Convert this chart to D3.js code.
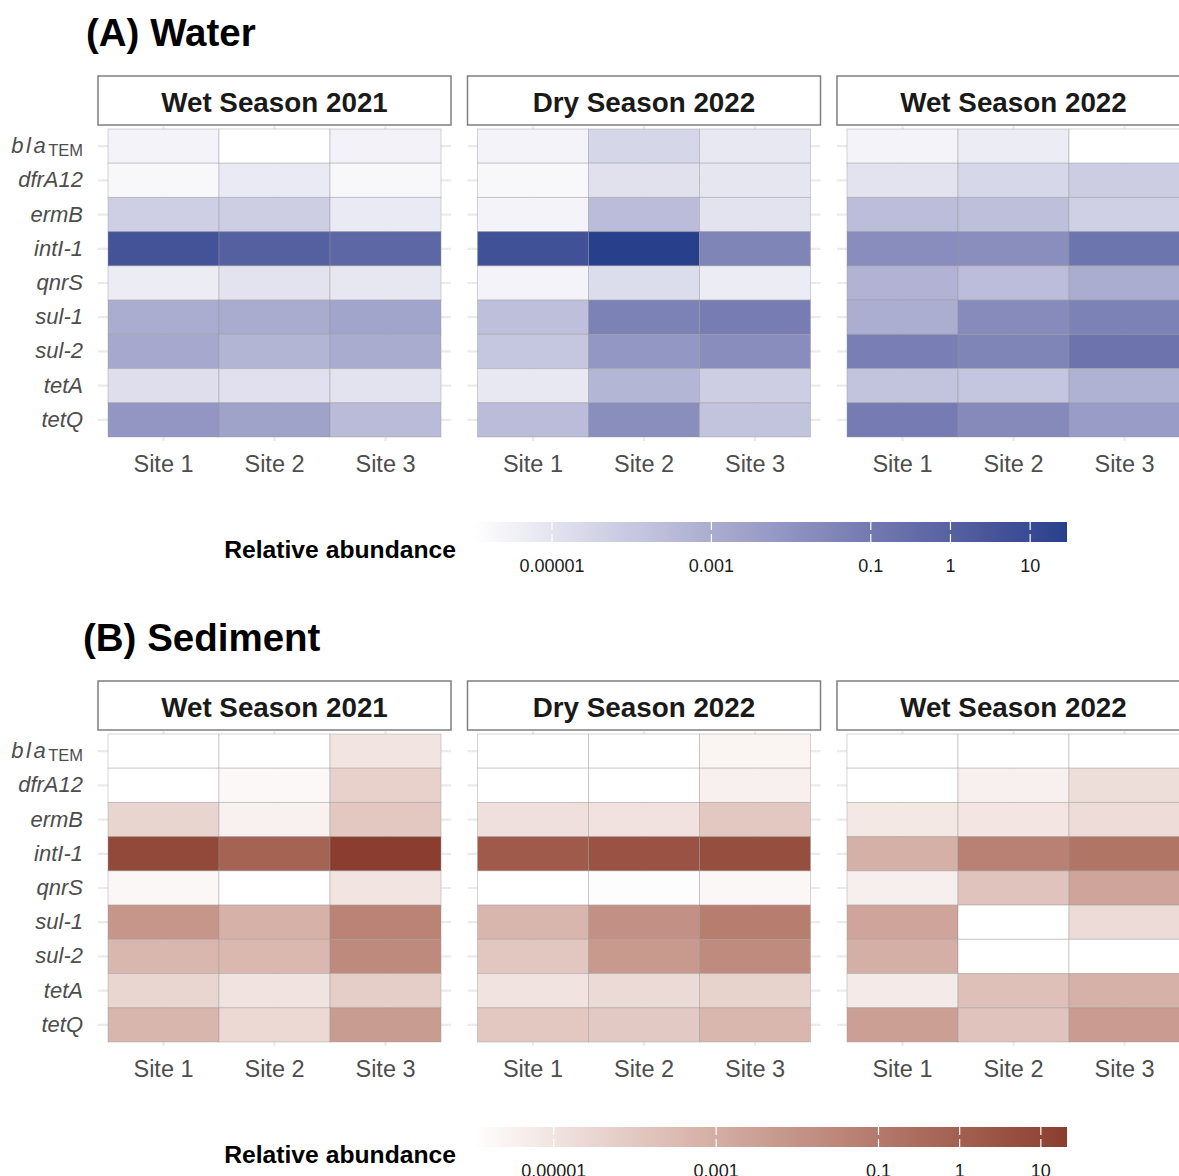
<!DOCTYPE html>
<html>
<head>
<meta charset="utf-8">
<script src="https://cdn.jsdelivr.net/npm/d3@7"></script>
<style>
  body { margin: 0; background: #fff; }
  svg { display: block; font-family: "Liberation Sans", Arial, sans-serif; }
</style>
</head>
<body>
<svg id="chart"></svg>
<script>
const genes = ['blaTEM', 'dfrA12', 'ermB', 'intI-1', 'qnrS', 'sul-1', 'sul-2', 'tetA', 'tetQ'];
const sites = ['Site 1', 'Site 2', 'Site 3'];
const seasons = ['Wet Season 2021', 'Dry Season 2022', 'Wet Season 2022'];

// relative abundance, one row per gene, columns Site 1..3 (null = not detected)
const waterWet2021 = [
  [2.7e-6, null, 3e-6],
  [1.8e-6, 5.6e-6, 1.8e-6],
  [5.6e-5, 6e-5, 5.6e-6],
  [4.2, 1.1, 0.6],
  [5e-6, 1e-5, 7.5e-6],
  [1.1e-3, 1.2e-3, 2.2e-3],
  [1.5e-3, 5e-4, 1.2e-3],
  [1.5e-5, 1.3e-5, 1e-5],
  [7.4e-3, 2.7e-3, 3e-4],
];
const waterDry2022 = [
  [2.7e-6, 3e-5, 7e-6],
  [1.8e-6, 1.2e-5, 8e-6],
  [2.7e-6, 2.8e-4, 1e-5],
  [5.2, 28, 0.035],
  [2.7e-6, 1.7e-5, 5e-6],
  [2.1e-4, 0.05, 0.075],
  [1.2e-4, 7e-3, 0.017],
  [7e-6, 4.5e-4, 6e-5],
  [2.8e-4, 0.016, 1.5e-4],
];
const waterWet2022 = [
  [2.7e-6, 5e-6, null],
  [1e-5, 2.8e-5, 6.5e-5],
  [2.5e-4, 2e-4, 5e-5],
  [0.017, 0.016, 0.16],
  [5.7e-4, 2.5e-4, 1e-3],
  [9e-4, 0.021, 0.05],
  [0.06, 0.035, 0.17],
  [1.5e-4, 1.3e-4, 6.5e-4],
  [0.08, 0.022, 4.5e-3],
];

const sedimentWet2021 = [
  [null, null, 9.5e-6],
  [null, 1.8e-6, 4.7e-5],
  [3.5e-5, 3.2e-6, 1e-4],
  [8, 0.75, 21],
  [2e-6, null, 9.5e-6],
  [8e-3, 7.4e-4, 0.04],
  [4.3e-4, 4e-4, 0.023],
  [3.2e-5, 1e-5, 6e-5],
  [5e-4, 2.5e-5, 4.6e-3],
];
const sedimentDry2022 = [
  [null, null, 2.5e-6],
  [null, null, 3.5e-6],
  [1.3e-5, 1.1e-5, 1e-4],
  [1.6, 3.3, 5],
  [null, 1.2e-6, 2e-6],
  [5e-4, 0.013, 0.066],
  [1.1e-4, 6e-3, 0.02],
  [1e-5, 2.2e-5, 4.5e-5],
  [1e-4, 9e-5, 4.3e-4],
];
const sedimentWet2022 = [
  [null, null, null],
  [null, 3.5e-6, 1.6e-5],
  [7e-6, 9e-6, 1.9e-5],
  [8e-4, 0.05, 0.15],
  [4e-6, 1.5e-4, 2e-3],
  [2e-3, null, 2e-5],
  [9e-4, null, null],
  [6e-6, 2e-4, 7e-4],
  [3.5e-3, 1.5e-4, 4.5e-3],
];

const legendBreaks = [1e-5, 1e-3, 0.1, 1, 10];
const legendLabels = ['0.00001', '0.001', '0.1', '1', '10'];
const waterRange = [1.05e-6, 29];
const sedimentRange = [1.04e-6, 21];

const width = 1179;
const height = 1176;

const svg = d3.select('#chart')
  .attr('width', width)
  .attr('height', height);

const defs = svg.append('defs');

// facet panels
const panelX = d3.scaleBand()
  .domain(seasons)
  .range([98, 1190])
  .paddingInner(0.0446);
const siteX = d3.scaleBand()
  .domain(sites)
  .range([10, panelX.bandwidth() - 10]);

const drawBlock = (opts) => {
  const top = opts.top;
  const g = svg.append('g')
    .attr('transform', `translate(0, ${top})`);

  const color = d3.scaleSequentialLog(d3.interpolateLab('#ffffff', opts.high))
    .domain(opts.range);

  g.append('text')
    .attr('x', opts.titleX)
    .attr('y', 46)
    .attr('font-size', 38.5)
    .attr('font-weight', 'bold')
    .attr('fill', '#000')
    .text(opts.title);

  const y = d3.scaleBand()
    .domain(genes)
    .range([129, 437]);

  seasons.forEach((season, si) => {
    const px = panelX(season);
    const p = g.append('g')
      .attr('transform', `translate(${px}, 0)`);

    // strip
    p.append('rect')
      .attr('x', 0)
      .attr('y', 76)
      .attr('width', panelX.bandwidth())
      .attr('height', 49)
      .attr('fill', '#fff')
      .attr('stroke', '#7f7f7f')
      .attr('stroke-width', 1.5);
    p.append('text')
      .attr('x', panelX.bandwidth() / 2)
      .attr('y', 112)
      .attr('text-anchor', 'middle')
      .attr('font-size', 27.8)
      .attr('font-weight', 'bold')
      .attr('fill', '#1a1a1a')
      .text(season);

    // grid
    p.selectAll('.hgrid')
      .data(genes)
      .enter().append('line')
        .attr('class', 'hgrid')
        .attr('x1', 0)
        .attr('x2', panelX.bandwidth())
        .attr('y1', d => y(d) + y.bandwidth() / 2)
        .attr('y2', d => y(d) + y.bandwidth() / 2)
        .attr('stroke', '#ebebeb')
        .attr('stroke-width', 2.2);
    p.selectAll('.vgrid')
      .data(sites)
      .enter().append('line')
        .attr('class', 'vgrid')
        .attr('x1', d => siteX(d) + siteX.bandwidth() / 2)
        .attr('x2', d => siteX(d) + siteX.bandwidth() / 2)
        .attr('y1', 126)
        .attr('y2', 441)
        .attr('stroke', '#ebebeb')
        .attr('stroke-width', 2.2);

    // tiles
    const cells = [];
    opts.data[si].forEach((row, gi) => {
      row.forEach((v, ci) => {
        cells.push({ gene: genes[gi], site: sites[ci], value: v });
      });
    });
    p.selectAll('.tile')
      .data(cells)
      .enter().append('rect')
        .attr('class', 'tile')
        .attr('x', d => siteX(d.site))
        .attr('y', d => y(d.gene))
        .attr('width', siteX.bandwidth())
        .attr('height', y.bandwidth())
        .attr('fill', d => (d.value == null ? '#ffffff' : color(d.value)))
        .attr('stroke', 'rgba(150,150,150,0.4)')
        .attr('stroke-width', 1);

    // x axis
    const xAxis = p.append('g')
      .attr('transform', 'translate(0, 441)')
      .call(d3.axisBottom(siteX).tickSize(0).tickPadding(14.5));
    xAxis.select('.domain').remove();
    xAxis.selectAll('text')
      .attr('font-family', null)
      .attr('font-size', 23.5)
      .attr('fill', '#4d4d4d');

    if (si === 0) {
      const yAxis = p.append('g')
        .call(d3.axisLeft(y).tickSize(0).tickPadding(15));
      yAxis.select('.domain').remove();
      yAxis.selectAll('text')
        .attr('font-family', null)
        .attr('font-size', 22)
        .attr('font-style', 'italic')
        .attr('fill', '#4d4d4d');
      const bla = yAxis.selectAll('text').filter(d => d === 'blaTEM');
      bla.text(null);
      bla.append('tspan')
        .attr('letter-spacing', 2.5)
        .text('bla');
      bla.append('tspan')
        .attr('font-style', 'normal')
        .attr('font-size', 16.5)
        .attr('dy', 3)
        .text('TEM');
    }
  });

  // legend
  const gradId = `grad-${opts.key}`;
  const grad = defs.append('linearGradient')
    .attr('id', gradId);
  d3.range(0, 1.0001, 0.05).forEach((t) => {
    grad.append('stop')
      .attr('offset', `${t * 100}%`)
      .attr('stop-color', color.interpolator()(t));
  });

  const lx = d3.scaleLog()
    .domain(opts.range)
    .range([474, 1067]);
  const leg = g.append('g')
    .attr('transform', 'translate(0, 522)');
  leg.append('rect')
    .attr('x', lx.range()[0])
    .attr('width', lx.range()[1] - lx.range()[0])
    .attr('height', 20)
    .attr('fill', `url(#${gradId})`);
  leg.selectAll('.tick-top')
    .data(legendBreaks)
    .enter().append('line')
      .attr('x1', d => lx(d))
      .attr('x2', d => lx(d))
      .attr('y1', 0)
      .attr('y2', 8)
      .attr('stroke', '#fff')
      .attr('stroke-width', 1.2);
  leg.selectAll('.tick-bottom')
    .data(legendBreaks)
    .enter().append('line')
      .attr('x1', d => lx(d))
      .attr('x2', d => lx(d))
      .attr('y1', 12)
      .attr('y2', 20)
      .attr('stroke', '#fff')
      .attr('stroke-width', 1.2);
  leg.selectAll('.lab')
    .data(legendBreaks)
    .enter().append('text')
      .attr('x', d => lx(d))
      .attr('y', 50)
      .attr('text-anchor', 'middle')
      .attr('font-size', 18)
      .attr('fill', '#1a1a1a')
      .text((d, i) => legendLabels[i]);
  g.append('text')
    .attr('x', 456)
    .attr('y', 558)
    .attr('text-anchor', 'end')
    .attr('font-size', 24.7)
    .attr('font-weight', 'bold')
    .attr('fill', '#000')
    .text('Relative abundance');
};

drawBlock({
  key: 'water',
  top: 0,
  title: '(A) Water',
  titleX: 86,
  data: [waterWet2021, waterDry2022, waterWet2022],
  range: waterRange,
  high: '#27408b',
});

drawBlock({
  key: 'sediment',
  top: 605,
  title: '(B) Sediment',
  titleX: 83,
  data: [sedimentWet2021, sedimentDry2022, sedimentWet2022],
  range: sedimentRange,
  high: '#8b3e2f',
});
</script>
</body>
</html>
